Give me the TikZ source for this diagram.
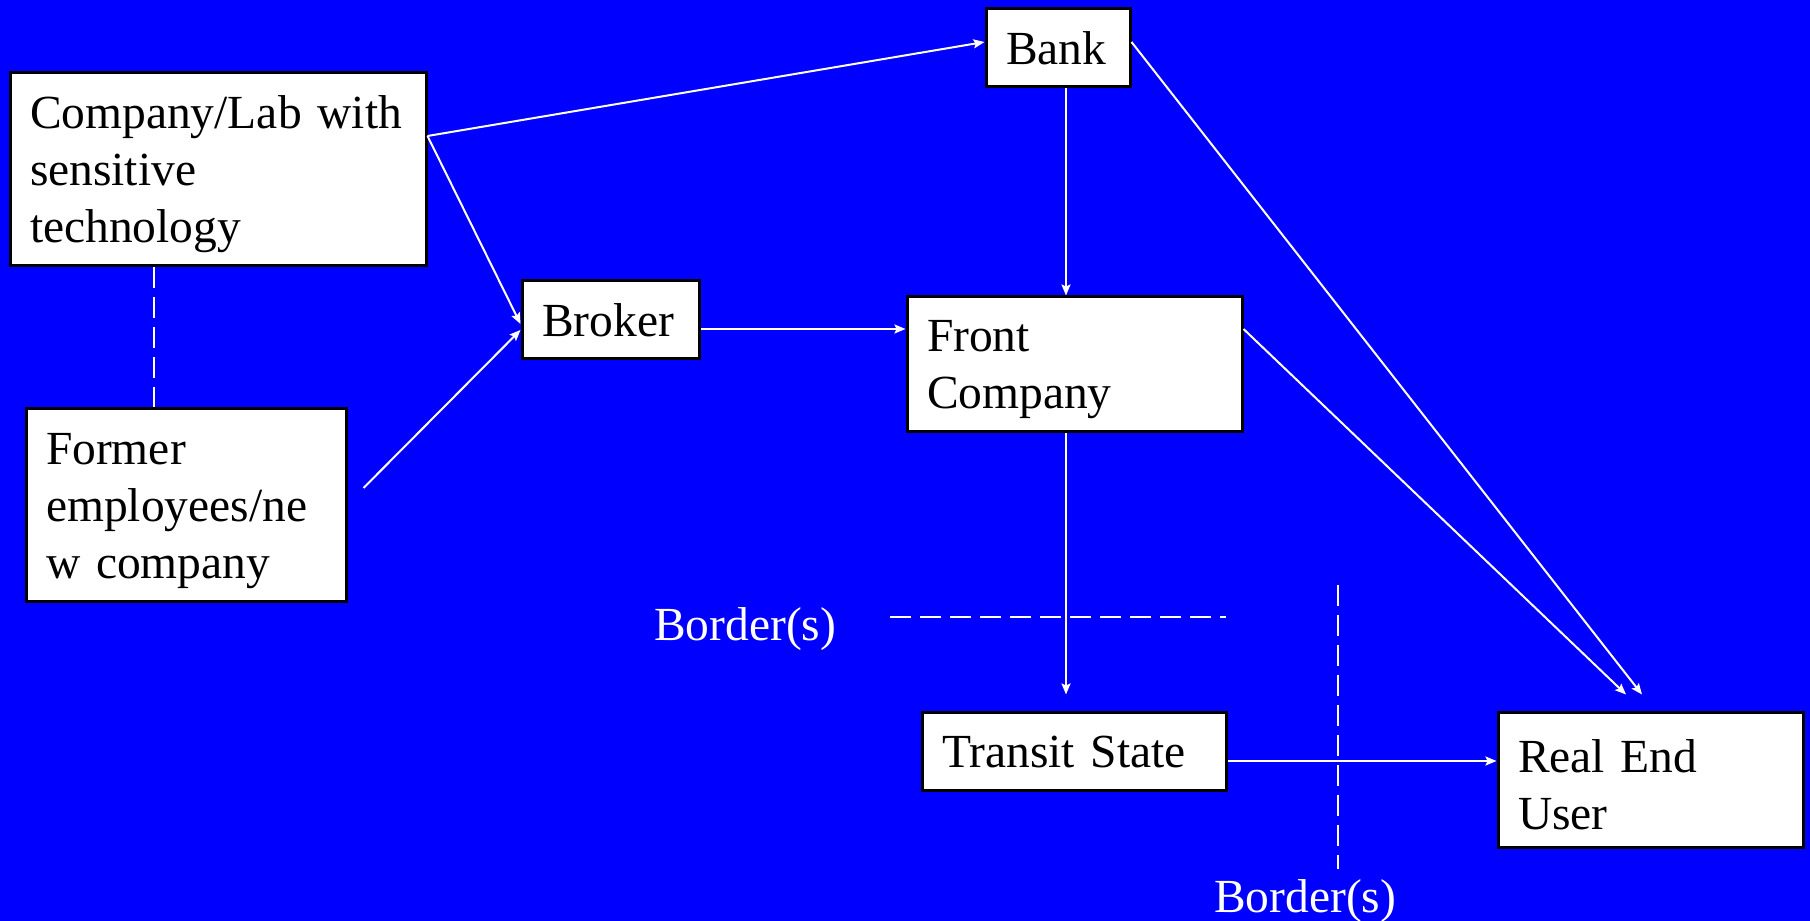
\documentclass[tikz,border=0pt]{standalone}
\usepackage{fontspec}
\setmainfont{Liberation Serif}
\usetikzlibrary{arrows.meta}
\definecolor{bg}{RGB}{0,0,255}
\newcommand\diagfont{\fontsize{47.5}{57}\selectfont}
\newcommand\firstup{\rule{0pt}{42pt}}
\tikzset{
  boxnode/.style={draw=black, line width=3pt, fill=white, inner xsep=20pt, inner ysep=0pt,
    align=left, font=\diagfont, text=black},
  flow/.style={draw=white, line width=2pt, -{Stealth[length=11pt,width=9pt,inset=2pt]}},
  bordr/.style={draw=white, line width=2.5pt, dash pattern=on 21pt off 9pt},
  bordlabel/.style={text=white, font=\diagfont, inner sep=0pt, anchor=base west}
}
\begin{document}
\begin{tikzpicture}[x=1pt,y=1pt]
\fill[bg] (0,0) rectangle (1810,921);
\useasboundingbox (0,0) rectangle (1810,921);

\node[boxnode, text width=376pt, minimum height=193pt] (company) at (218,751.5)
  {\firstup Company/Lab with\\sensitive\\technology};
\node[boxnode, text width=280pt, minimum height=193pt] (former) at (186,415.5)
  {\firstup Former\\employees/ne\\w company};
\node[boxnode, text width=104pt, minimum height=78pt] (bank) at (1058,873) {Bank};
\node[boxnode, text width=137pt, minimum height=78pt] (broker) at (610.5,601) {Broker};
\node[boxnode, text width=295pt, minimum height=135pt] (front) at (1074.5,556.5)
  {\firstup Front\\Company};
\node[boxnode, text width=264pt, minimum height=78pt] (transit) at (1074,169) {Transit State};
\node[boxnode, text width=265pt, minimum height=135pt] (real) at (1650.5,140.5)
  {\firstup Real End\\User};

\node[bordlabel] (b1) at (654,280) {Border(s)};
\node[bordlabel] (b2) at (1214,9) {Border(s)};

\coordinate (h1) at (890,304);
\coordinate (h2) at (1226,304);
\coordinate (v1) at (1338,336);
\coordinate (v2) at (1338,52);
\coordinate (fstart) at ([xshift=16pt,yshift=17.5pt]former.east);

% dashed lines
\draw[bordr] ([xshift=-64pt]company.south) -- ([xshift=-32pt]former.north);
\draw[bordr] (h1) -- (h2);
\draw[bordr] (v1) -- (v2);

% arrows
\draw[flow] ([yshift=33.5pt]company.east) -- ([yshift=6pt]bank.west);
\draw[flow] ([yshift=33.5pt]company.east) -- ([yshift=-4pt]broker.west);
\draw[flow] (fstart) -- ([yshift=-10pt]broker.west);
\draw[flow] ([yshift=-9pt]broker.east) -- ([yshift=35.5pt]front.west);
\draw[flow] ([xshift=8pt]bank.south) -- ([xshift=-8.5pt]front.north);
\draw[flow] ([yshift=6pt]bank.east) -- ([xshift=-8.5pt,yshift=17pt]real.north);
\draw[flow] ([yshift=35.5pt]front.east) -- ([xshift=-24.5pt,yshift=17pt]real.north);
\draw[flow] ([xshift=-8.5pt]front.south) -- ([xshift=-8pt,yshift=17pt]transit.north);
\draw[flow] ([yshift=-9pt]transit.east) -- ([yshift=19.5pt]real.west);
\end{tikzpicture}
\end{document}
